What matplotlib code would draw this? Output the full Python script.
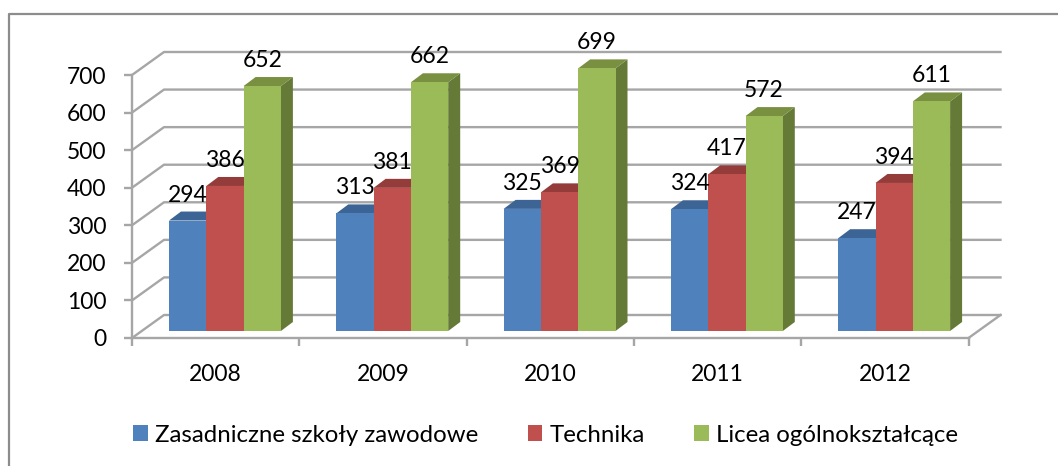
"""Wykres słupkowy 3D (styl Excela) : uczniowie wg typu szkoły, 2008-2012."""
import matplotlib
matplotlib.use("Agg")
import matplotlib.pyplot as plt
from matplotlib.lines import Line2D
from matplotlib.patches import Polygon, Rectangle

lata = ["2008", "2009", "2010", "2011", "2012"]
zasadnicze = [294, 313, 325, 324, 247]
technika = [386, 381, 369, 417, 394]
licea = [652, 662, 699, 572, 611]
nazwy = ["Zasadniczne szkoły zawodowe", "Technika", "Licea ogólnokształcące"]
podzialka = [0, 100, 200, 300, 400, 500, 600, 700]

# przod, gora, bok
KOLORY = [("#4f81bd", "#3c6494", "#3c6494"),
          ("#c0504d", "#943c3a", "#943c3a"),
          ("#9bbb59", "#789040", "#667a38")]
SIATKA = "#a6a6a6"
W, H = 1058, 466

plt.rcParams["font.family"] = ["Lato", "DejaVu Sans"]

fig = plt.figure(figsize=(W / 100, H / 100), dpi=100, facecolor="white")

# ramka: widoczna tylko z lewej i u gory (obraz jest przyciety)
fig.add_artist(Line2D([9 / W, 9 / W, 1], [0, 1 - 14 / H, 1 - 14 / H], transform=fig.transFigure,
                      color="#8c8c8c", linewidth=1.6))

# osie ustawione na przedniej plaszczyznie wykresu
ax = fig.add_axes([132 / W, 1 - 338 / H, 836.5 / W, 263 / H])
ax.set_xlim(0, 5)
ax.set_ylim(0, 700)
ax.patch.set_visible(False)
px_x = 836.5 / 5
px_y = 263 / 700

# glebokosc sciany tylnej i slupka, w jednostkach danych
sciana_dx, sciana_dy = 32 / px_x, 23 / px_y
slupek_dx, slupek_dy = 12 / px_x, 9 / px_y
podloga = 7 / px_y
start = 37 / px_x
szer = 37.3 / px_x

for v in podzialka:
    ax.plot([0, sciana_dx, 5 + sciana_dx], [v, v + sciana_dy, v + sciana_dy],
            color=SIATKA, lw=1.7, clip_on=False, zorder=1)
ax.plot([5, 5 + sciana_dx], [0, sciana_dy], color=SIATKA, lw=1.7, clip_on=False, zorder=1)

serie = [zasadnicze, technika, licea]
for s, wartosci in enumerate(serie):
    for k, v in enumerate(wartosci):
        x0 = k + start + s * szer
        x1 = x0 + szer
        gora = v + podloga
        przod, wierzch, bok = KOLORY[s]
        ax.add_patch(Polygon([(x1, podloga), (x1 + slupek_dx, podloga + slupek_dy),
                              (x1 + slupek_dx, gora + slupek_dy), (x1, gora)],
                             facecolor=bok, edgecolor="none", clip_on=False, zorder=2 + s))
        ax.add_patch(Polygon([(x0, gora), (x0 + slupek_dx, gora + slupek_dy),
                              (x1 + slupek_dx, gora + slupek_dy), (x1, gora)],
                             facecolor=wierzch, edgecolor="none", clip_on=False, zorder=2 + s))
        ax.bar(x0, v, width=szer, bottom=podloga, align="edge", color=przod,
               edgecolor="none", clip_on=False, zorder=2.5 + s)
        ax.text(x0 + szer / 2, gora + slupek_dy + 16, str(v), ha="center", va="bottom",
                fontsize=16.5, color="black", clip_on=False, zorder=6)

for nazwa in ("top", "right"):
    ax.spines[nazwa].set_visible(False)
for nazwa in ("left", "bottom"):
    ax.spines[nazwa].set_color(SIATKA)
    ax.spines[nazwa].set_linewidth(1.7)

ax.set_xticks(range(6))
ax.set_xticklabels([])
ax.set_yticks(podzialka)
ax.tick_params(axis="both", color=SIATKA, width=1.7, length=6)
ax.tick_params(axis="y", labelsize=16.5, pad=12.5, labelcolor="black")
for k, rok in enumerate(lata):
    ax.annotate(rok, (k + 0.5, 0), xytext=(0, -19), textcoords="offset points",
                ha="center", va="top", fontsize=16.5)

uchwyty = [Rectangle((0, 0), 1, 1, facecolor=k[0]) for k in KOLORY]
fig.legend(uchwyty, nazwy, ncol=3, loc="center", bbox_to_anchor=(545.5 / W, 1 - 435 / H),
           frameon=False, fontsize=17.3, handlelength=0.62, handleheight=0.62,
           handletextpad=0.29, columnspacing=2.05)

fig.savefig("out.png", dpi=100, facecolor="white")
